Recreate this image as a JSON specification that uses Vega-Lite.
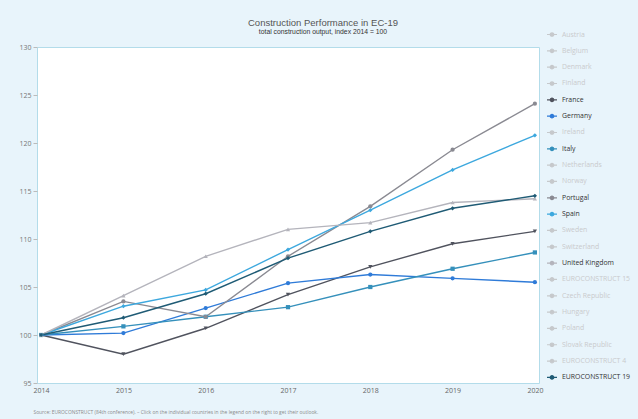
{
  "$schema": "https://vega.github.io/schema/vega-lite/v6.json",
  "autosize": {"type": "none"},
  "width": 502,
  "height": 336,
  "padding": {"left": 37, "top": 47, "right": 99, "bottom": 36},
  "background": "#e8f4fb",
  "title": {
    "text": "Construction Performance in EC-19",
    "subtitle": "total construction output, index 2014 = 100",
    "anchor": "middle",
    "frame": "bounds",
    "dx": -2,
    "offset": -9,
    "font": "Liberation Sans Narrow, Liberation Sans, sans-serif",
    "fontSize": 9.5,
    "fontWeight": "normal",
    "color": "#555555",
    "subtitleFont": "Liberation Sans Narrow, Liberation Sans, sans-serif",
    "subtitleFontSize": 6.8,
    "subtitleColor": "#333333",
    "subtitlePadding": 1
  },
  "config": {
    "view": {"fill": "white", "stroke": "#b3dcea", "strokeWidth": 1},
    "font": "Open Sans"
  },
  "data": {
    "values": [
      {"country": "France", "year": "2014", "index": 100},
      {"country": "France", "year": "2015", "index": 98.0},
      {"country": "France", "year": "2016", "index": 100.7},
      {"country": "France", "year": "2017", "index": 104.2},
      {"country": "France", "year": "2018", "index": 107.1},
      {"country": "France", "year": "2019", "index": 109.5},
      {"country": "France", "year": "2020", "index": 110.8},
      {"country": "Germany", "year": "2014", "index": 100},
      {"country": "Germany", "year": "2015", "index": 100.2},
      {"country": "Germany", "year": "2016", "index": 102.8},
      {"country": "Germany", "year": "2017", "index": 105.4},
      {"country": "Germany", "year": "2018", "index": 106.3},
      {"country": "Germany", "year": "2019", "index": 105.9},
      {"country": "Germany", "year": "2020", "index": 105.5},
      {"country": "Italy", "year": "2014", "index": 100},
      {"country": "Italy", "year": "2015", "index": 100.9},
      {"country": "Italy", "year": "2016", "index": 101.9},
      {"country": "Italy", "year": "2017", "index": 102.9},
      {"country": "Italy", "year": "2018", "index": 105.0},
      {"country": "Italy", "year": "2019", "index": 106.9},
      {"country": "Italy", "year": "2020", "index": 108.6},
      {"country": "Portugal", "year": "2014", "index": 100},
      {"country": "Portugal", "year": "2015", "index": 103.5},
      {"country": "Portugal", "year": "2016", "index": 101.9},
      {"country": "Portugal", "year": "2017", "index": 108.2},
      {"country": "Portugal", "year": "2018", "index": 113.4},
      {"country": "Portugal", "year": "2019", "index": 119.3},
      {"country": "Portugal", "year": "2020", "index": 124.1},
      {"country": "Spain", "year": "2014", "index": 100},
      {"country": "Spain", "year": "2015", "index": 103.0},
      {"country": "Spain", "year": "2016", "index": 104.7},
      {"country": "Spain", "year": "2017", "index": 108.9},
      {"country": "Spain", "year": "2018", "index": 113.0},
      {"country": "Spain", "year": "2019", "index": 117.2},
      {"country": "Spain", "year": "2020", "index": 120.8},
      {"country": "United Kingdom", "year": "2014", "index": 100},
      {"country": "United Kingdom", "year": "2015", "index": 104.1},
      {"country": "United Kingdom", "year": "2016", "index": 108.2},
      {"country": "United Kingdom", "year": "2017", "index": 111.0},
      {"country": "United Kingdom", "year": "2018", "index": 111.7},
      {"country": "United Kingdom", "year": "2019", "index": 113.8},
      {"country": "United Kingdom", "year": "2020", "index": 114.2},
      {"country": "EUROCONSTRUCT 19", "year": "2014", "index": 100},
      {"country": "EUROCONSTRUCT 19", "year": "2015", "index": 101.8},
      {"country": "EUROCONSTRUCT 19", "year": "2016", "index": 104.3},
      {"country": "EUROCONSTRUCT 19", "year": "2017", "index": 108.0},
      {"country": "EUROCONSTRUCT 19", "year": "2018", "index": 110.8},
      {"country": "EUROCONSTRUCT 19", "year": "2019", "index": 113.2},
      {"country": "EUROCONSTRUCT 19", "year": "2020", "index": 114.5}
    ]
  },
  "encoding": {
    "x": {
      "field": "year",
      "type": "ordinal",
      "sort": null,
      "scale": {"type": "point", "padding": 0.05},
      "axis": {
        "title": "Source: EUROCONSTRUCT (84th conference). – Click on the individual countries in the legend on the right to get their outlook.",
        "titleAnchor": "start",
        "titleFont": "Open Sans",
        "titleFontSize": 4.9,
        "titleFontWeight": "normal",
        "titleColor": "#8a8a8a",
        "titlePadding": 16,
        "titleX": -4,
        "labelAngle": 0,
        "labelFont": "Open Sans",
        "labelFontSize": 7,
        "labelColor": "#666666",
        "labelPadding": 3,
        "ticks": false,
        "domain": false,
        "grid": false
      }
    },
    "y": {
      "field": "index",
      "type": "quantitative",
      "scale": {"domain": [95, 130], "nice": false, "zero": false},
      "axis": {
        "title": null,
        "values": [95, 100, 105, 110, 115, 120, 125, 130],
        "labelFont": "Open Sans",
        "labelFontSize": 7,
        "labelColor": "#777777",
        "tickSize": 4,
        "tickColor": "#bbbbbb",
        "labelPadding": 2,
        "domain": false,
        "grid": false
      }
    },
    "color": {
      "field": "country",
      "type": "nominal",
      "scale": {
        "domain": ["Austria", "Belgium", "Denmark", "Finland", "France", "Germany", "Ireland", "Italy", "Netherlands", "Norway", "Portugal", "Spain", "Sweden", "Switzerland", "United Kingdom", "EUROCONSTRUCT 15", "Czech Republic", "Hungary", "Poland", "Slovak Republic", "EUROCONSTRUCT 4", "EUROCONSTRUCT 19"],
        "range": ["#c6c9cc", "#c6c9cc", "#c6c9cc", "#c6c9cc", "#50535e", "#2f7bd8", "#c6c9cc", "#3590bb", "#c6c9cc", "#c6c9cc", "#8a8a92", "#3da8de", "#c6c9cc", "#c6c9cc", "#b4b4bc", "#c6c9cc", "#c6c9cc", "#c6c9cc", "#c6c9cc", "#c6c9cc", "#c6c9cc", "#1f5b75"]
      },
      "legend": {
        "title": null,
        "orient": "none",
        "legendX": 509,
        "legendY": -20.5,
        "symbolType": "M-1,0L1,0M-0.35,0A0.35,0.35,0,1,0,0.35,0A0.35,0.35,0,1,0,-0.35,0Z",
        "symbolSize": 100,
        "symbolStrokeWidth": 1.2,
        "labelFont": "Open Sans",
        "labelFontSize": 6.9,
        "labelOffset": 4,
        "rowPadding": 0.33,
        "clipHeight": 16,
        "labelLimit": 200,
        "encode": {
          "symbols": {
            "update": {
              "fill": {"scale": "color", "field": "value"},
              "stroke": {"scale": "color", "field": "value"},
              "opacity": {"value": 1}
            }
          },
          "labels": {
            "update": {
              "fill": {"signal": "indexof(['France','Germany','Italy','Portugal','Spain','United Kingdom','EUROCONSTRUCT 19'], datum.label) >= 0 ? '#333333' : '#c8cacc'"}
            }
          }
        }
      }
    }
  },
  "layer": [
    {"mark": {"type": "line", "strokeWidth": 1.4}},
    {
      "mark": {"type": "point", "filled": true, "size": 18, "opacity": 1},
      "encoding": {
        "shape": {
          "field": "country",
          "type": "nominal",
          "scale": {
            "domain": ["France", "Germany", "Italy", "Portugal", "Spain", "United Kingdom", "EUROCONSTRUCT 19"],
            "range": ["triangle-down", "circle", "square", "circle", "diamond", "triangle-up", "diamond"]
          },
          "legend": null
        }
      }
    }
  ]
}
